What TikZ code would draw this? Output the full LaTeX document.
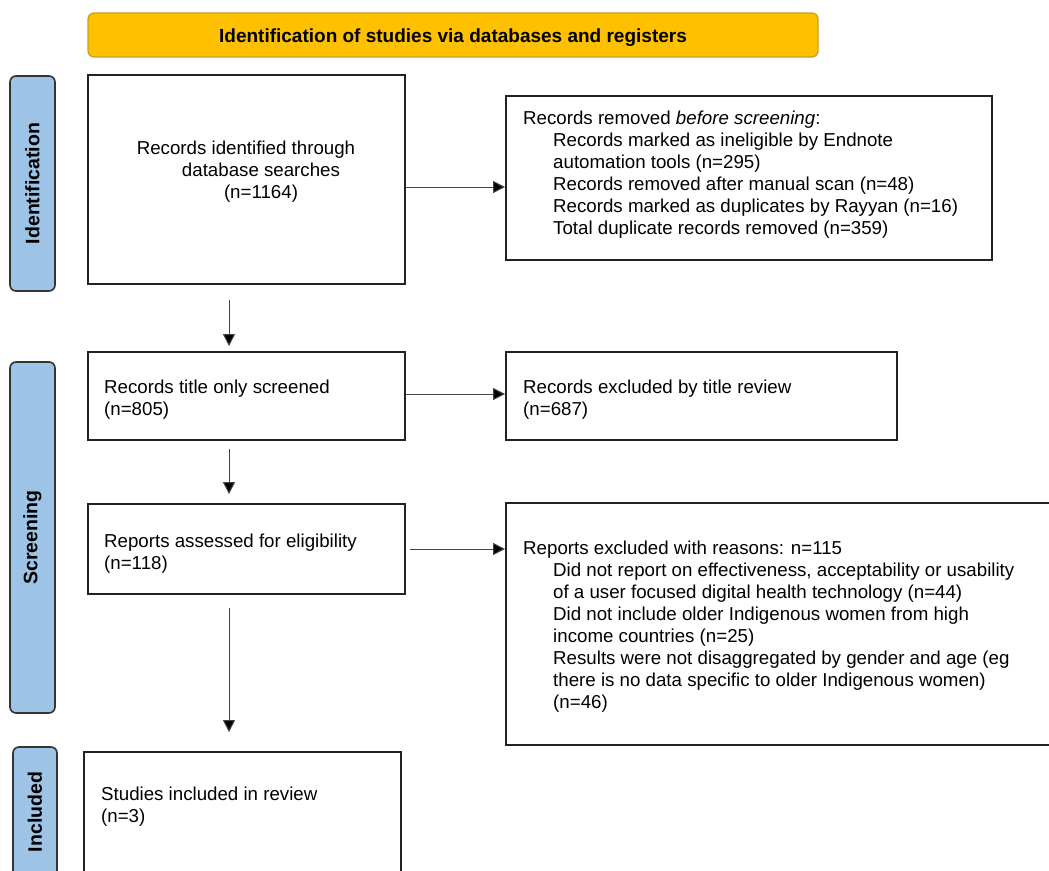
\documentclass[tikz,border=0pt]{standalone}
\usepackage{fontspec}
\setmainfont{Liberation Sans}
\usetikzlibrary{arrows.meta,calc}
\definecolor{bannerfill}{HTML}{FFC000}
\definecolor{bannerdraw}{HTML}{C8A020}
\definecolor{barfill}{HTML}{9DC3E6}
\definecolor{bardraw}{HTML}{333333}
\definecolor{boxdraw}{HTML}{222222}
\definecolor{arrowcol}{HTML}{444444}
\tikzset{
  txt/.style={font=\fontsize{18.7}{22}\selectfont, inner sep=0pt},
  lefttxt/.style={txt, anchor=west, align=left},
  flowbox/.style={draw=boxdraw, line width=1.8pt, fill=white, inner sep=0pt},
  sidebar/.style={draw=bardraw, line width=1.6pt, fill=barfill, rounded corners=6pt, inner sep=0pt},
  sidelabel/.style={rotate=90, font=\fontsize{19.5}{22}\selectfont\bfseries},
  arr/.style={draw=arrowcol, line width=1pt, -{Triangle[width=12pt,length=12pt,fill=black]}},
}
\newcommand{\ind}{\hspace*{30pt}}
\begin{document}
\begin{tikzpicture}[x=1pt,y=-1pt]
\useasboundingbox[fill=white] (0,0) rectangle (1049,870);

% banner
\node[draw=bannerdraw, line width=1.2pt, fill=bannerfill, rounded corners=6pt,
      minimum width=730pt, minimum height=44pt, inner sep=0pt] (banner) at (453,35) {};
\node[font=\fontsize{19}{22}\selectfont\bfseries, inner sep=0pt] (tbanner) at (453,38)
  {Identification of studies via databases and registers};

% side bars
\node[sidebar, minimum width=45pt, minimum height=215pt] (sbid) at (32.5,183.5) {};
\node[sidelabel] (lid) at (sbid.center) {Identification};
\node[sidebar, minimum width=45pt, minimum height=351pt] (sbsc) at (32.5,537.5) {};
\node[sidelabel] (lsc) at (sbsc.center) {Screening};
\node[sidebar, minimum width=44pt, minimum height=160pt] (sbin) at (35,827) {};
\node[sidelabel] (lin) at (35,812) {Included};

% boxes
\node[flowbox, minimum width=317pt, minimum height=209pt] (b1) at (246.5,179.5) {};
\node[txt, align=center] (t1) at (246,171.5)
  {Records identified through\\ \hspace*{30pt}database searches\\ \hspace*{30pt}(n=1164)};

\node[flowbox, minimum width=486pt, minimum height=164pt] (rem) at (749,178) {};
\node[lefttxt] (trem) at (523,175)
  {Records removed \textit{before screening}:\\
   \ind Records marked as ineligible by Endnote\\
   \ind automation tools (n=295)\\
   \ind Records removed after manual scan (n=48)\\
   \ind Records marked as duplicates by Rayyan (n=16)\\
   \ind Total duplicate records removed (n=359)};

\node[flowbox, minimum width=317pt, minimum height=88pt] (b2) at (246.5,396) {};
\node[lefttxt] (t2) at (104,400) {Records title only screened\\(n=805)};

\node[flowbox, minimum width=391pt, minimum height=88pt] (exc1) at (701.5,396) {};
\node[lefttxt] (texc1) at (523,400) {Records excluded by title review\\(n=687)};

\node[flowbox, minimum width=317pt, minimum height=90pt] (b3) at (246.5,549) {};
\node[lefttxt] (t3) at (104,554) {Reports assessed for eligibility\\(n=118)};

\node[flowbox, minimum width=552pt, minimum height=242pt] (exc2) at (782,624) {};
\node[lefttxt] (texc2) at (523,627)
  {Reports excluded with reasons: n=115\\
   \ind Did not report on effectiveness, acceptability or usability\\
   \ind of a user focused digital health technology (n=44)\\
   \ind Did not include older Indigenous women from high\\
   \ind income countries (n=25)\\
   \ind Results were not disaggregated by gender and age (eg\\
   \ind there is no data specific to older Indigenous women)\\
   \ind (n=46)};

\node[flowbox, minimum width=317pt, minimum height=160pt] (b4) at (242.5,832) {};
\node[lefttxt] (t4) at (101,807) {Studies included in review\\(n=3)};

% connectors
\draw[arr] ([xshift=-17.5pt,yshift=-15pt]b1.south) -- ([xshift=-17.5pt,yshift=5pt]b2.north);
\draw[arr] ([xshift=-17.5pt,yshift=-8pt]b2.south) -- ([xshift=-17.5pt,yshift=9pt]b3.north);
\draw[arr] ([xshift=-17.5pt,yshift=-13pt]b3.south) -- ([xshift=-13.5pt,yshift=19pt]b4.north);

\draw[arr] ([yshift=-7.5pt]b1.east) -- ([yshift=-7.5pt]b1.east -| rem.west);
\draw[arr] ([yshift=2pt]b2.east) -- ([yshift=2pt]b2.east -| exc1.west);
\draw[arr] ([xshift=4pt]b3.east) -- (b3.east -| exc2.west);
\end{tikzpicture}
\end{document}
